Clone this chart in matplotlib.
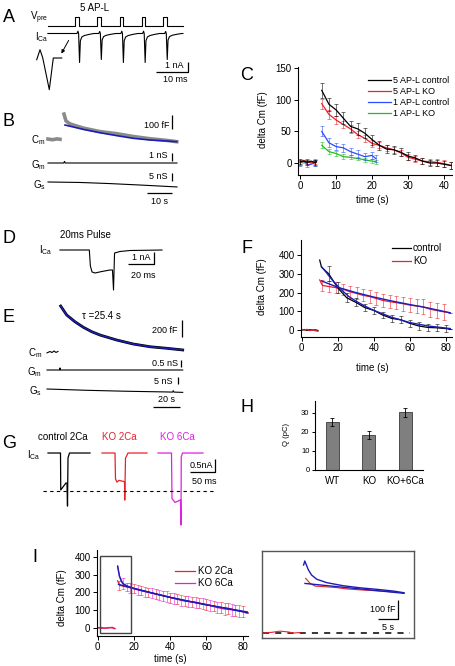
"""
Multi-panel figure: presynaptic Ca currents, capacitance traces and
endocytosis time courses (panels A-I).
"""
import numpy as np
import matplotlib.pyplot as plt
from matplotlib.patches import Rectangle

plt.rcParams['font.family'] = ['Liberation Sans', 'DejaVu Sans']
plt.rcParams['mathtext.fontset'] = 'custom'
plt.rcParams['mathtext.rm'] = 'Liberation Sans'
plt.rcParams['mathtext.it'] = 'Liberation Sans'
plt.rcParams['axes.linewidth'] = 0.8

# ---------------- data ----------------
# A: 5 AP-like train (ms, mV / nA)
a_pulse_onsets = [9.5, 16.4, 23.3, 30.2, 37.0]
a_pulse_width = 1.0
a_vpre_rest, a_vpre_peak = -80, 40
a_span = [0.9, 43.1]
a_spike_times = [10.3, 17.1, 24.0, 30.8, 37.7]
a_spike_amp = [2.9, 2.6, 2.9, 2.9, 2.6]
a_spike_dt = [-0.3, 0.0, 0.2, 0.5, 0.75, 1.2, 2.0, 3.5, 5.0]
a_spike_shape = [0.0, 0.08, 0.0, -1.0, -0.25, -0.12, -0.07, -0.03, 0.0]
a_zoom_t = [-0.83, -0.5, -0.23, 0.43, 0.83, 1.67]
a_zoom_i = [-0.16, 0.78, 0.03, -2.97, 0.0, 0.0]

# B: Cm / Gm / Gs after 5 AP-L (s, fF, nS)
b_cm_pre_t = [1.2, 3.0, 4.8, 6.0]
b_cm_pre = [2, -3, 3, 0]
b_cm_t = [7.6, 8.4, 10, 15.3, 22, 28.7, 35.3, 42, 48.7, 52.7]
b_cm = [180, 131, 110, 80, 55, 40, 20, 4, -8, -17]
b_fit_t = [8, 15.3, 22, 28.7, 35.3, 42, 48.7, 52.7]
b_fit = [102, 71, 47, 26, 7, -5, -12, -17]
b_gm_t = [1.2, 7.5, 7.8, 8.1, 52.8]
b_gm = [0, 0, 0.2, 0, 0]
b_gs_t = [1.2, 14, 26, 38, 52.8]
b_gs = [0, -0.3, -1.0, -1.9, -3.1]

# C: delta Cm time course (s, fF)
c_base_t = [0, 1, 2, 3, 4, 4.5]
c_base_ctrl5 = [2, 3, 1, 3, 1, 2]
c_base_ko5 = [1, 4, 2, 0, 2, 1]
c_base_ctrl1 = [0, 4, -3, -2, 0, 2]
c_base_ko1 = [1, 0, 2, 1, 0, 1]
c_t5 = [6, 8, 10, 12, 14, 16, 18, 20, 22, 24, 26, 28, 30, 32, 34, 36, 38, 40, 42]
c_ctrl5 = [115, 93, 84, 71, 58, 54, 47, 37, 28, 22, 21, 17, 11, 8, 3, 0, 0, -2, -4]
c_ctrl5_err = [12, 10, 10, 9, 9, 9, 8, 8, 7, 6, 6, 6, 6, 5, 5, 5, 5, 5, 5]
c_ko5 = [94, 77, 68, 61, 54, 45, 39, 31, 28, 24, 21, 16, 9, 6, 3, 2, 1, -1, -4]
c_ko5_err = [8, 7, 7, 6, 6, 6, 6, 6, 5, 5, 5, 5, 5, 5, 5, 5, 5, 5, 5]
c_t1 = [6, 8, 10, 12, 14, 16, 18, 20, 21]
c_ctrl1 = [50, 32, 26, 24, 18, 14, 10, 12, 7]
c_ctrl1_err = [8, 7, 6, 6, 6, 6, 6, 6, 5]
c_ko1 = [28, 18, 15, 10, 9, 7, 5, 3, 2]
c_ko1_err = [5, 4, 4, 4, 3, 3, 3, 3, 3]

# D: 20 ms pulse ICa (ms, nA)
d_t = [3.8, 26.4, 27.2, 28.5, 30.8, 36, 42.3, 44.2, 45.0, 45.8, 50, 57.7, 82.3]
d_i = [0, 0, -1.6, -2.2, -2.3, -2.15, -2.0, -2.0, -4.0, -0.3, -0.15, -0.05, 0]

# E: Cm / Gm / Gs after 20 ms pulse (s, fF, nS)
e_cm_pre_t = [1.5, 3.7, 5.2, 6.7, 8.1, 9.6]
e_cm_pre = [-10, 6, -6, 12, -5, 6]
e_cm_t = [11.6, 16.1, 22.2, 28.4, 34.6, 40.7, 53.1, 65.4, 77.8, 90.1, 102]
e_cm = [541, 435, 356, 291, 239, 200, 141, 94, 62, 44, 24]
e_gm_t = [1.5, 10.8, 11.1, 11.4, 102]
e_gm = [0, 0, 0.15, 0, 0]
e_gs_t = [1.5, 30, 60, 90, 94.5, 95, 95.5, 102]
e_gs = [0, -0.9, -1.6, -2.1, -2.2, -1.2, -2.2, -2.4]

# F: delta Cm after 20 ms pulse (s, fF)
f_base_t = [0, 1.5, 3, 4.5, 6, 7.5, 9]
f_base_ctrl = [0, 3, -2, 2, 0, 1, -2]
f_base_ko = [3, 0, 4, -3, 2, -4, -6]
f_ctrl_t = [10, 11, 15, 20, 25, 30, 35, 40, 45, 50, 55, 60, 65, 70, 75, 80, 82.5]
f_ctrl = [373, 335, 300, 225, 172, 148, 120, 105, 80, 62, 55, 36, 22, 14, 12, 8, 5]
f_ctrl_err = [0, 0, 40, 30, 25, 22, 20, 20, 18, 18, 18, 18, 20, 20, 18, 18, 0]
f_ko_t = [10, 11.5, 15, 19, 23, 27, 30.5, 34, 38, 41.5, 45, 49, 52.5, 56.5, 60, 64,
          67.5, 71, 75, 79, 82.5]
f_ko = [267, 238, 232, 226, 218, 203, 195, 185, 178, 168, 158, 151, 146, 140, 133,
        128, 124, 112, 104, 97, 92]
f_ko_err = [0, 30, 30, 30, 30, 32, 32, 32, 33, 34, 35, 35, 36, 37, 38, 38, 40, 40,
            40, 42, 0]
f_ctrl_fit_t = [11, 13, 15, 18, 22, 26, 30, 35, 40, 50, 60, 70, 82.5]
f_ctrl_fit = [338, 315, 290, 255, 215, 180, 155, 128, 105, 68, 40, 22, 8]
f_ko_fit_t = [11, 20, 30, 40, 50, 60, 70, 82.5]
f_ko_fit = [262, 228, 200, 176, 155, 136, 118, 92]

# G: ICa for 20 ms pulses (local ms, nA)
g_ctrl_t = [0, 25, 25.5, 36, 38, 39, 40, 43, 84]
g_ctrl_i = [0, 0, -1.42, -1.15, -1.17, -2.04, -0.19, 0, 0]
g_ko_t = [0, 26, 27, 30, 34, 40, 45, 45.5, 47, 52, 90]
g_ko_i = [0, 0, -1.0, -1.12, -1.05, -1.08, -1.1, -1.81, -0.2, 0, 0]
g_ko6_t = [0, 27, 28, 34, 40, 45, 46, 46.5, 49, 90]
g_ko6_i = [0, 0, -1.75, -1.9, -1.85, -1.8, -2.77, -0.15, 0, 0]
g_names = ['control 2Ca', 'KO 2Ca', 'KO 6Ca']
g_peak_ref = -1.46

# H: charge (pC)
h_groups = ['WT', 'KO', 'KO+6Ca']
h_q = [25.2, 18.4, 30.2]
h_err = [2.1, 2.0, 2.4]

# I: KO 2Ca vs KO 6Ca (s, fF)
i_base_t = [0.5, 2, 4, 6, 8, 9.5]
i_base_ko2 = [0, 3, -2, 0, 4, -3]
i_base_ko6 = [2, -2, 0, 3, 0, -4]
i_ko2_t = [11, 12, 16, 20, 24, 28, 32, 36, 40, 44, 48, 52, 56, 60, 64, 68, 72, 76, 80, 82.5]
i_ko2 = [265, 240, 230, 222, 212, 201, 190, 181, 171, 162, 151, 146, 140, 132, 124,
         114, 110, 100, 92, 88]
i_ko2_err = [0, 25, 25, 25, 26, 26, 27, 27, 28, 28, 28, 29, 29, 30, 30, 30, 30, 31, 31, 0]
i_ko6_t = [11, 12, 14, 18, 22, 26, 30, 34, 38, 42, 46, 50, 54, 58, 62, 66, 70, 74, 78, 82.5]
i_ko6 = [350, 290, 250, 226, 214, 204, 197, 186, 176, 166, 156, 150, 145, 135, 126,
         114, 106, 102, 96, 85]
i_ko6_err = [0, 0, 30, 28, 28, 28, 28, 28, 29, 29, 30, 30, 30, 31, 31, 31, 32, 32, 32, 0]
i_ko6_fit_t = [11, 12, 13, 14, 16, 20, 30, 40, 50, 60, 70, 82.5]
i_ko6_fit = [345, 292, 262, 248, 236, 222, 196, 172, 150, 130, 112, 86]
i_ko2_fit_t = [11.5, 20, 40, 60, 82.5]
i_ko2_fit = [245, 222, 172, 130, 90]
i_zoom_region = (1.3, 18.4, -28, 404)
# I inset (expanded early phase)
ii_base_t = [0.75, 3, 5, 7, 8.5, 10]
ii_base = [0, 4, 10, 6, 0, 3]
ii_ko6_t = [10.9, 11.2, 12.1, 12.9, 14.2, 16.7, 20.8, 25, 29.2, 33.3, 36]
ii_ko6 = [358, 379, 332, 305, 283, 265, 249, 238, 230, 221, 212]
ii_ko2_t = [11.4, 12.5, 13.75, 16.7, 19.2, 21.7, 26, 31, 34]
ii_ko2 = [288, 262, 247, 243, 239, 232, 226, 220, 215]
ii_fit2_t = [11.25, 36]
ii_fit2 = [261, 209]

# ---------------- styling ----------------
RED = '#e8212b'
BLUE = '#2a4bff'
GREEN = '#1fbf1f'
MAGENTA = '#e020e0'
FIT = '#1c1cb8'
GRAY = '#8a8a8a'

W, H = 456, 666
fig = plt.figure(figsize=(W / 100, H / 100), dpi=100)


def add_ax(l, t, r, b):
    """Axes from a pixel box (left, top, right, bottom)."""
    return fig.add_axes([l / W, 1 - b / H, (r - l) / W, (b - t) / H])


def trace_ax(l, t, r, b, xlim, ylim):
    ax = add_ax(l, t, r, b)
    ax.set_xlim(*xlim)
    ax.set_ylim(*ylim)
    ax.axis('off')
    return ax


def ftext(x, y, s, **kw):
    kw.setdefault('fontsize', 7)
    kw.setdefault('ha', 'center')
    kw.setdefault('va', 'center')
    fig.text(x / W, 1 - y / H, s, **kw)


def panel(x, y, s):
    ftext(x, y, s, fontsize=13)


def style_axes(ax):
    for side in ('top', 'right'):
        ax.spines[side].set_visible(False)
    ax.tick_params(direction='out', length=3, width=0.7, labelsize=7, pad=1.5)


def scalebar(ax, x, y, **kw):
    ax.plot(x, y, color='k', lw=0.9, solid_capstyle='butt', clip_on=False, **kw)


def errline(ax, t, v, e, color, lw=0.9, every=1, alpha=0.55, z=2):
    ax.plot(t, v, color=color, lw=lw, zorder=z)
    ax.errorbar(t, v, yerr=e, fmt='none', ecolor=color, alpha=alpha,
                elinewidth=0.7, capsize=1.6, capthick=0.7, errorevery=every, zorder=z)


# ---------------- A ----------------
panel(9, 17, 'A')
ax = trace_ax(45, 12, 195, 30, (0, 46.875), (-133.3, 106.7))
vt, vv = [a_span[0]], [a_vpre_rest]
for o in a_pulse_onsets:
    vt += [o, o, o + a_pulse_width, o + a_pulse_width]
    vv += [a_vpre_rest, a_vpre_peak, a_vpre_peak, a_vpre_rest]
vt.append(a_span[1])
vv.append(a_vpre_rest)
ax.plot(vt, vv, color='k', lw=0.8)

ax = trace_ax(45, 28, 195, 80, (0, 46.875), (-4.65, 0.55))
it, iv = [a_span[0]], [0]
for ts, amp in zip(a_spike_times, a_spike_amp):
    it += [ts + d for d in a_spike_dt]
    iv += [amp * s for s in a_spike_shape]
it.append(a_span[1])
iv.append(0)
ax.plot(it, iv, color='k', lw=0.8)
scalebar(ax, [34.7, 44.7, 44.7], [-3.85, -3.85, -2.85])
ax.annotate('', xy=(4.7, -2.25), xytext=(7.8, -0.45),
            arrowprops=dict(arrowstyle='-|>', lw=0.7, color='k', mutation_scale=5))

ax = trace_ax(35, 45, 65, 93, (-1, 2), (-3.28, 1.22))
ax.plot(a_zoom_t, a_zoom_i, color='k', lw=0.8)

ftext(95, 8, '5 AP-L', fontsize=7)
ftext(48, 18, r'V$_{\rm pre}$', ha='right', fontsize=7)
ftext(48, 37, r'I$_{\rm Ca}$', ha='right', fontsize=7)
ftext(184, 65, '1 nA', ha='right', fontsize=6.5)
ftext(175, 79, '10 ms', fontsize=6.5)

# ---------------- B ----------------
panel(9, 121, 'B')
ax = trace_ax(45, 108, 180, 150, (0, 54), (-76.4, 223.6))
ax.plot(b_cm_pre_t, b_cm_pre, color=GRAY, lw=2.6)
ax.plot(b_cm_t, b_cm, color=GRAY, lw=2.6)
ax.plot(b_fit_t, b_fit, color=FIT, lw=1.2)
scalebar(ax, [50.8, 50.8], [73, 173])

ax = trace_ax(45, 150, 180, 170, (0, 54), (-0.875, 1.625))
ax.plot(b_gm_t, b_gm, color='k', lw=0.8)
scalebar(ax, [50.8, 50.8], [0.2, 1.2])

ax = trace_ax(45, 170, 180, 205, (0, 54), (-14.4, 7.5))
ax.plot(b_gs_t, b_gs, color='k', lw=0.8)
scalebar(ax, [50.8, 50.8], [0.6, 5.6])
scalebar(ax, [40.8, 50.8], [-7.2, -7.2])

ftext(45, 140, r'C$_{\rm m}$', ha='right')
ftext(46, 165, r'G$_{\rm m}$', ha='right')
ftext(46, 185, r'G$_{\rm s}$', ha='right')
ftext(170, 125, '100 fF', ha='right', fontsize=6.5)
ftext(168, 155, '1 nS', ha='right', fontsize=6.5)
ftext(168, 177, '5 nS', ha='right', fontsize=6.5)
ftext(160, 202, '10 s', fontsize=6.5)

# ---------------- C ----------------
panel(247, 75, 'C')
ax = add_ax(298, 67, 452, 175)
style_axes(ax)
for base, col in [(c_base_ko1, GREEN), (c_base_ctrl1, BLUE), (c_base_ko5, RED),
                  (c_base_ctrl5, 'k')]:
    errline(ax, c_base_t, base, [4] * len(c_base_t), col, every=2)
errline(ax, c_t1, c_ko1, c_ko1_err, GREEN, z=2)
errline(ax, c_t1, c_ctrl1, c_ctrl1_err, BLUE, z=3)
errline(ax, c_t5, c_ko5, c_ko5_err, RED, z=4)
errline(ax, c_t5, c_ctrl5, c_ctrl5_err, 'k', z=5)
ax.set_xlim(-0.6, 42.2)
ax.set_ylim(-19, 152)
ax.set_xticks([0, 10, 20, 30, 40])
ax.set_yticks([0, 50, 100, 150])
handles = [plt.Line2D([], [], color=c, lw=0.9) for c in ('k', RED, BLUE, GREEN)]
ax.legend(handles, ['5 AP-L control', '5 AP-L KO', '1 AP-L control', '1 AP-L KO'],
          loc='upper left', bbox_to_anchor=((368 - 298) / 154, 1 - (76 - 67) / 108),
          frameon=False, fontsize=6.5, handlelength=2.5, handletextpad=0.3,
          labelspacing=0.22, borderpad=0, borderaxespad=0)
ftext(263, 120, 'delta Cm (fF)', rotation=90)
ftext(372, 200, 'time (s)')

# ---------------- D ----------------
panel(9, 238, 'D')
ax = trace_ax(55, 240, 165, 295, (0, 84.6), (-4.5, 1.0))
ax.plot(d_t, d_i, color='k', lw=0.8)
scalebar(ax, [56.2, 76.2, 76.2], [-1.4, -1.4, -0.2])
ftext(60, 235, '20ms Pulse', ha='left', fontsize=7)
ftext(52, 250, r'I$_{\rm Ca}$', ha='right')
ftext(151, 257, '1 nA', ha='right', fontsize=6.5)
ftext(143, 275, '20 ms', fontsize=6.5)

# ---------------- E ----------------
panel(9, 318, 'E')
ax = trace_ax(45, 300, 190, 360, (0, 107.4), (-94, 612))
ax.plot(e_cm_pre_t, e_cm_pre, color='k', lw=0.8)
ax.plot(e_cm_t, e_cm, color='k', lw=2.0)
ax.plot(e_cm_t, e_cm, color=FIT, lw=1.1)
scalebar(ax, [101.5, 101.5], [176, 376])

ax = trace_ax(45, 360, 190, 378, (0, 107.4), (-0.571, 0.714))
ax.plot(e_gm_t, e_gm, color='k', lw=0.8)
scalebar(ax, [100.7, 100.7], [0.21, 0.71])

ax = trace_ax(45, 374, 190, 412, (0, 107.4), (-16.4, 10.7))
ax.plot(e_gs_t, e_gs, color='k', lw=0.8)
scalebar(ax, [98.5, 98.5], [3.6, 8.6])
scalebar(ax, [80, 100], [-12.9, -12.9])

ftext(82, 316, u'\u03c4 =25.4 s', ha='left', fontsize=7)
ftext(42, 353, r'C$_{\rm m}$', ha='right')
ftext(42, 372, r'G$_{\rm m}$', ha='right')
ftext(42, 391, r'G$_{\rm s}$', ha='right')
ftext(178, 331, '200 fF', ha='right', fontsize=6.5)
ftext(178, 363, '0.5 nS', ha='right', fontsize=6.5)
ftext(173, 381, '5 nS', ha='right', fontsize=6.5)
ftext(166, 400, '20 s', fontsize=6.5)

# ---------------- F ----------------
panel(247, 248, 'F')
ax = add_ax(300.7, 240, 452, 337)
style_axes(ax)
ax.plot(f_base_t, f_base_ctrl, color='k', lw=0.9)
ax.plot(f_base_t, f_base_ko, color=RED, lw=0.9)
errline(ax, f_ko_t, f_ko, f_ko_err, RED, every=(1, 1), z=2)
errline(ax, f_ctrl_t, f_ctrl, f_ctrl_err, 'k', every=(2, 1), z=3)
ax.plot(f_ko_fit_t, f_ko_fit, color=FIT, lw=1.0, zorder=4)
ax.plot(f_ctrl_fit_t, f_ctrl_fit, color=FIT, lw=1.0, zorder=4)
ax.set_xlim(-0.56, 83.5)
ax.set_ylim(-37, 480)
ax.set_xticks([0, 20, 40, 60, 80])
ax.set_yticks([0, 100, 200, 300, 400])
handles = [plt.Line2D([], [], color=c, lw=0.9) for c in ('k', RED)]
ax.legend(handles, ['control', 'KO'], loc='upper left',
          bbox_to_anchor=((392 - 300.7) / 151.3, 1 - (243 - 240) / 97),
          frameon=False, fontsize=7, handlelength=2.0, handletextpad=0.15,
          labelspacing=0.35, borderpad=0, borderaxespad=0)
ftext(262, 287, 'delta Cm (fF)', rotation=90)
ftext(372, 368, 'time (s)')

# ---------------- G ----------------
panel(9, 444, 'G')
ax = trace_ax(40, 430, 220, 530, (0, 360), (-2.96, 0.885))
g_offsets = [16, 124, 236]
for (t, i), off, col in zip([(g_ctrl_t, g_ctrl_i), (g_ko_t, g_ko_i), (g_ko6_t, g_ko6_i)],
                           g_offsets, ('k', RED, MAGENTA)):
    ax.plot([off + v for v in t], i, color=col, lw=0.9)
ax.axhline(g_peak_ref, xmin=6 / 360, xmax=350 / 360, color='k', lw=0.8, ls=(0, (3, 3)))
scalebar(ax, [300, 350, 350], [-0.73, -0.73, -0.23])
for name, x, col in zip(g_names, (38, 102, 160), ('k', RED, MAGENTA)):
    ftext(x, 437, name, ha='left', color=col, fontsize=7)
ftext(40, 455, r'I$_{\rm Ca}$', ha='right')
ftext(213, 465, '0.5nA', ha='right', fontsize=6.5)
ftext(204, 482, '50 ms', fontsize=6.5)

# ---------------- H ----------------
panel(247, 408, 'H')
ax = add_ax(315, 401, 423, 470)
style_axes(ax)
xpos = np.arange(len(h_groups))
ax.bar(xpos, h_q, width=0.36, color='#7f7f7f', edgecolor='#3a3a3a', lw=0.6,
       yerr=h_err, capsize=1.6, error_kw=dict(elinewidth=0.6, capthick=0.6))
ax.set_xlim(-0.48, 2.49)
ax.set_ylim(0, 36)
ax.set_yticks([0, 10, 20, 30])
ax.set_xticks(xpos)
ax.set_xticklabels(h_groups)
ax.tick_params(axis='y', labelsize=5.5, length=2.5)
ax.tick_params(axis='x', length=0, labelsize=7, pad=4)
ftext(287, 435, 'Q (pC)', rotation=90, fontsize=5.5)

# ---------------- I ----------------
ftext(35, 557, 'I', fontsize=13)
ax = add_ax(96.7, 550, 248, 636)
style_axes(ax)
ax.plot(i_base_t, i_base_ko6, color=MAGENTA, lw=0.9)
ax.plot(i_base_t, i_base_ko2, color=RED, lw=0.9)
errline(ax, i_ko6_t, i_ko6, i_ko6_err, MAGENTA, every=(2, 1), z=2)
errline(ax, i_ko2_t, i_ko2, i_ko2_err, RED, every=(1, 1), z=3)
ax.plot(i_ko2_fit_t, i_ko2_fit, color=FIT, lw=1.0, zorder=4)
ax.plot(i_ko6_fit_t, i_ko6_fit, color=FIT, lw=1.0, zorder=4)
x0, x1, y0, y1 = i_zoom_region
ax.add_patch(Rectangle((x0, y0), x1 - x0, y1 - y0, fill=False, ec='#444444',
                       lw=1.0, clip_on=False, zorder=5))
ax.set_xlim(-0.55, 82.9)
ax.set_ylim(-45, 438)
ax.set_xticks([0, 20, 40, 60, 80])
ax.set_yticks([0, 100, 200, 300, 400])
handles = [plt.Line2D([], [], color=c, lw=0.9) for c in (RED, MAGENTA)]
ax.legend(handles, ['KO 2Ca', 'KO 6Ca'], loc='upper left',
          bbox_to_anchor=((175 - 96.7) / 151.3, 1 - (566 - 550) / 86),
          frameon=False, fontsize=7, handlelength=2.1, handletextpad=0.3,
          labelspacing=0.2, borderpad=0, borderaxespad=0)
ftext(62, 598, 'delta Cm (fF)', rotation=90)
ftext(170, 659, 'time (s)')

# I inset
ax = add_ax(262, 551, 414, 638)
ax.set_xticks([])
ax.set_yticks([])
for sp in ax.spines.values():
    sp.set_color('#555555')
    sp.set_linewidth(1.0)
ax.set_xlim(0.5, 38.5)
ax.set_ylim(-26, 431.6)
ax.axhline(0, xmin=0.25 / 38, xmax=37 / 38, color='k', lw=1.1, ls=(0, (4, 4)))
ax.plot(ii_base_t, ii_base, color=RED, lw=0.8)
ax.plot(ii_ko2_t, ii_ko2, color=RED, lw=0.8)
ax.plot(ii_fit2_t, ii_fit2, color=FIT, lw=1.0)
ax.plot(ii_ko6_t, ii_ko6, color=FIT, lw=1.0)
scalebar(ax, [29.5, 34.5, 34.5], [74, 74, 174])
ftext(396, 610, '100 fF', ha='right', fontsize=6.5)
ftext(388, 627, '5 s', fontsize=6.5)

fig.savefig('out.png', dpi=100)
